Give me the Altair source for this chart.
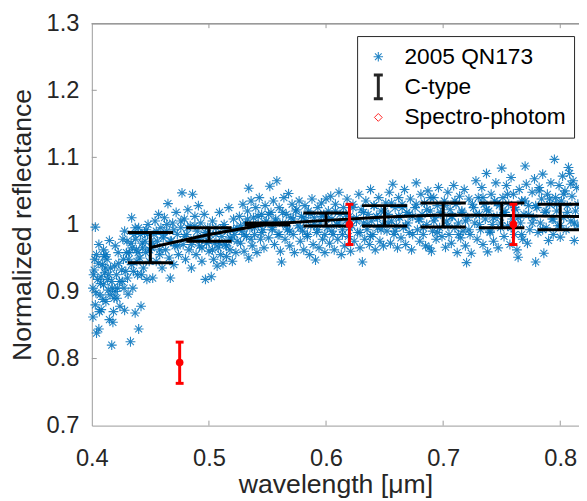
import altair as alt
import pandas as pd

# ---------------- data ----------------
# 2005 QN173 spectrum (wavelength in micron, normalized reflectance)
wl_a = [0.401,0.402,0.403,0.403,0.404,0.405,0.406,0.406,0.407,0.408,0.409,0.410,0.410,0.411,0.412,0.413,0.414,0.415,0.416,0.417,0.417,0.418,0.419,0.420,0.421,0.422,0.423,0.424,0.401,0.404,0.412,0.420,0.408,0.415]
refl_a = [0.905,0.932,0.996,0.880,0.955,0.918,0.844,0.970,0.895,0.873,0.940,0.910,0.962,0.928,0.885,0.948,0.902,0.858,0.935,0.820,0.915,0.854,0.890,0.968,0.925,0.905,0.942,0.878,0.862,0.838,0.955,0.900,0.922,0.976]

wl_b = [0.426,0.427,0.428,0.429,0.430,0.431,0.432,0.433,0.434,0.434,0.435,0.436,0.437,0.438,0.439,0.440,0.440,0.441,0.442,0.443,0.444,0.445,0.446,0.447,0.448,0.449,0.428,0.437]
refl_b = [0.915,0.948,0.872,0.930,0.975,0.896,0.958,0.825,1.010,0.940,0.905,0.985,0.868,0.962,0.925,0.844,0.995,0.950,0.878,0.972,0.935,0.988,0.958,0.918,1.000,0.945,0.990,0.995]

wl_c = [0.451,0.452,0.453,0.454,0.455,0.456,0.457,0.458,0.459,0.460,0.461,0.462,0.463,0.464,0.465,0.466,0.467,0.468,0.469,0.470,0.471,0.472,0.473,0.474,
        0.476,0.477,0.478,0.479,0.480,0.481,0.482,0.483,0.484,0.485,0.486,0.487,0.488,0.489,0.490,0.491,0.492,0.493,0.494,0.495,0.496,0.497,0.498,0.499]
refl_c = [0.965,0.920,0.985,1.005,0.945,0.975,1.015,0.955,0.995,0.935,0.980,1.010,0.962,0.990,1.031,0.950,0.920,0.975,1.002,0.940,0.968,1.018,0.985,0.955,
          0.995,1.047,0.970,1.008,0.948,0.985,1.022,0.962,0.998,0.935,1.045,0.978,1.012,0.955,0.990,1.028,0.968,1.002,0.945,0.982,1.015,0.918,0.972,0.995]

wl_d = [0.500,0.501,0.502,0.503,0.504,0.505,0.506,0.507,0.508,0.509,0.510,0.511,0.512,0.513,0.514,0.515,0.516,0.517,0.518,0.519,0.520,0.521,0.522,0.523,0.524,
        0.526,0.527,0.528,0.529,0.530,0.531,0.532,0.533,0.534,0.534,0.535,0.536,0.537,0.538,0.539,0.540,0.541,0.542,0.543,0.544,0.545,0.546,0.547,0.548,0.549]
refl_d = [0.960,0.985,0.922,1.005,0.948,0.972,0.995,0.938,0.965,1.018,0.955,0.982,0.942,1.000,0.970,0.952,0.990,1.025,0.962,0.978,0.945,1.008,0.985,0.958,0.995,
          1.012,0.972,0.990,1.030,0.960,1.002,0.982,1.020,1.054,0.950,0.995,1.035,0.968,1.010,0.985,1.025,0.958,1.000,1.040,0.978,1.015,0.992,0.965,1.028,1.005]

wl_e = [0.551,0.552,0.553,0.554,0.555,0.556,0.557,0.558,0.559,0.560,0.561,0.562,0.563,0.564,0.565,0.566,0.567,0.568,0.569,0.570,0.571,0.572,0.573,0.574,
        0.576,0.577,0.578,0.579,0.580,0.581,0.582,0.583,0.584,0.585,0.586,0.587,0.588,0.589,0.590,0.591,0.592,0.593,0.594,0.595,0.596,0.597,0.598,0.599,0.600]
refl_e = [0.980,1.057,1.018,0.995,1.035,0.970,1.008,1.065,0.985,1.025,0.960,0.944,1.002,1.040,0.978,1.015,0.992,1.046,0.968,1.010,1.030,0.985,0.958,1.020,
          0.998,1.035,0.975,1.012,0.990,0.962,1.028,1.005,0.982,1.020,0.955,0.998,1.038,0.970,1.010,0.947,0.988,1.025,0.965,1.002,1.032,0.978,1.015,0.958,1.038]

wl_f = [0.601,0.602,0.603,0.604,0.605,0.606,0.607,0.608,0.609,0.610,0.611,0.612,0.613,0.614,0.615,0.616,0.617,0.618,0.619,0.620,0.621,0.622,0.623,0.624,
        0.626,0.627,0.628,0.629,0.630,0.631,0.632,0.633,0.634,0.635,0.636,0.637,0.638,0.639,0.640,0.641,0.642,0.643,0.644,0.645,0.646,0.647,0.648,0.649]
refl_f = [0.995,1.020,0.972,1.042,1.008,0.985,0.962,1.030,1.000,0.978,1.048,1.015,0.955,0.992,1.025,0.968,1.005,1.038,0.982,1.012,0.960,0.998,1.030,0.975,
          1.010,0.988,1.045,0.965,1.022,0.944,1.002,0.978,1.035,0.992,1.015,0.970,1.052,1.005,0.985,1.028,0.962,1.012,0.995,1.040,0.975,1.020,1.000,0.968]

wl_g = [0.651,0.652,0.653,0.654,0.655,0.656,0.657,0.658,0.659,0.660,0.661,0.662,0.663,0.664,0.665,0.666,0.667,0.668,0.669,0.670,0.671,0.672,0.673,0.674,
        0.676,0.677,0.678,0.679,0.680,0.681,0.682,0.683,0.684,0.685,0.686,0.687,0.688,0.689,0.690,0.691,0.692,0.693,0.694,0.695,0.696,0.697,0.698,0.699]
refl_g = [1.032,0.990,1.015,1.048,0.972,1.005,1.060,0.985,1.025,0.998,0.965,1.040,1.010,0.980,1.030,0.995,1.052,0.970,1.018,1.002,0.988,1.038,0.962,1.012,
          1.025,1.062,0.992,1.008,0.975,1.045,1.015,0.985,1.032,0.968,1.000,1.050,0.965,1.020,0.960,0.990,1.040,1.010,0.978,1.028,1.055,0.995,1.015,0.982]

wl_h = [0.701,0.702,0.703,0.704,0.705,0.706,0.707,0.708,0.709,0.710,0.711,0.712,0.713,0.714,0.715,0.716,0.717,0.718,0.719,0.720,0.721,0.722,0.723,0.724,
        0.726,0.727,0.728,0.729,0.730,0.731,0.732,0.733,0.734,0.735,0.736,0.737,0.738,0.739,0.740,0.741,0.742,0.743,0.744,0.745,0.746,0.747,0.748,0.749,0.750]
refl_h = [1.035,0.966,1.005,1.048,0.985,1.022,0.972,1.012,1.058,0.995,1.030,0.958,1.002,1.042,0.980,1.018,0.990,1.052,0.968,0.943,1.010,1.038,0.985,0.957,
          1.025,1.002,1.065,0.978,1.040,1.015,0.992,1.055,0.970,1.030,1.008,1.076,0.959,1.020,0.988,1.045,1.000,0.975,1.035,1.062,1.012,0.965,1.028,0.995,1.084]

wl_i = [0.751,0.752,0.753,0.754,0.755,0.756,0.757,0.758,0.759,0.760,0.761,0.762,0.763,0.764,0.765,0.766,0.767,0.768,0.769,0.770,0.771,0.772,0.773,0.774,
        0.776,0.777,0.778,0.779,0.780,0.781,0.782,0.783,0.784,0.785,0.786,0.787,0.788,0.789,0.790,0.791,0.792,0.793,0.794,0.795,0.796,0.797,0.798,0.799]
refl_i = [1.040,0.982,1.018,1.058,0.998,1.030,0.970,1.070,1.008,1.045,0.985,1.022,0.962,0.951,1.052,1.002,1.035,0.978,1.015,1.087,1.060,0.972,1.028,0.992,
          1.048,1.010,1.068,0.944,1.025,0.988,1.055,1.002,1.038,1.075,0.957,1.018,0.995,1.045,0.976,1.030,1.062,1.008,0.985,1.097,1.040,1.020,0.998,1.058]

wl_j = [0.800,0.801,0.802,0.803,0.804,0.805,0.806,0.807,0.808,0.809,0.810,0.811,0.812,0.813,0.814,0.815]
refl_j = [0.981,1.035,1.072,1.010,1.050,0.992,1.028,1.085,1.076,1.005,1.042,1.065,0.976,1.020,1.055,0.998]

# extra points filling the dense parts of the cloud
wl_k = [0.4015,0.4035,0.4055,0.4075,0.4095,0.4115,0.4135,0.4155,0.4175,0.4195,0.4215,0.4235,0.4255,0.4275,0.4295,0.4315,0.4335,0.4355,0.4375,0.4395,0.4415,0.4435,0.4455,0.4475,0.4495,
        0.4025,0.4065,0.4105,0.4145,0.4185,0.4225,0.4265,0.4305,0.4345,0.4385,0.4425,0.4465]
refl_k = [0.925,0.898,0.942,0.912,0.888,0.935,0.918,0.895,0.905,0.938,0.890,0.915,0.932,0.905,0.958,0.948,0.972,0.930,0.978,0.958,0.985,0.965,0.975,0.985,0.962,
          0.948,0.870,0.952,0.925,0.870,0.958,0.978,0.920,0.965,0.945,0.925,0.992]

wl_m = [0.452,0.455,0.458,0.461,0.464,0.467,0.470,0.473,0.476,0.479,0.482,0.485,0.488,0.491,0.494,0.497,0.500,0.503,0.506,0.509,
        0.512,0.515,0.518,0.521,0.524,0.527,0.530,0.533,0.536,0.539,0.542,0.545,0.548,0.551,0.554,0.557,0.560,0.563,0.566,0.569,
        0.572,0.575,0.578,0.581,0.584,0.587,0.590,0.593,0.596,0.599]
refl_m = [0.972,0.990,0.962,0.985,1.000,0.975,0.992,0.968,1.005,0.982,0.995,0.970,0.998,0.978,0.965,0.988,0.975,0.962,0.985,0.972,
          0.995,0.968,0.980,0.992,0.975,0.998,0.985,1.008,0.978,0.995,1.012,0.988,1.002,1.015,0.992,1.005,0.985,1.018,0.998,0.990,
          1.008,1.022,0.995,1.010,0.985,1.015,1.000,0.992,1.012,0.985]

wl_n = [0.602,0.605,0.608,0.611,0.614,0.617,0.620,0.623,0.626,0.629,0.632,0.635,0.638,0.641,0.644,0.647,0.650,0.653,0.656,0.659,
        0.662,0.665,0.668,0.671,0.674,0.677,0.680,0.683,0.686,0.689,0.692,0.695,0.698,0.701,0.704,0.707,0.710,0.713,0.716,0.719,
        0.722,0.725,0.728,0.731,0.734,0.737,0.740,0.743,0.746,0.749,0.752,0.755,0.758,0.761,0.764,0.767,0.770,0.773,0.776,0.779,
        0.782,0.785,0.788,0.791,0.794,0.797,0.800,0.803,0.806,0.809,0.812,0.815]
refl_n = [1.010,0.990,1.020,1.002,0.985,1.015,0.995,1.025,1.005,0.988,1.018,1.000,0.982,1.028,1.010,0.992,1.020,1.002,1.032,0.990,
          1.012,1.025,0.998,1.015,0.985,1.030,1.008,0.995,1.022,1.040,1.005,0.988,1.018,1.028,0.998,1.012,1.035,0.985,1.020,1.005,
          0.992,1.030,1.015,1.000,1.040,1.022,0.990,1.010,1.032,1.002,1.018,1.045,0.995,1.025,1.010,0.985,1.035,1.015,1.002,1.028,
          1.050,0.992,1.020,1.038,1.008,1.030,0.998,1.045,1.018,1.060,1.002,1.030]

# C-type template: mean with error range
ctype_wl = [0.45, 0.50, 0.55, 0.60, 0.65, 0.70, 0.75, 0.80, 0.85]
ctype_mean = [0.9655, 0.985, 1.0005, 1.006, 1.011, 1.014, 1.0135, 1.012, 1.011]
ctype_lo = [0.943, 0.975, 0.999, 0.9975, 0.9975, 0.996, 0.995, 0.992, 0.991]
ctype_hi = [0.988, 0.995, 1.002, 1.017, 1.028, 1.032, 1.032, 1.030, 1.030]

# Spectro-photometric points
sp_wl = [0.475, 0.620, 0.760]
sp_refl = [0.794, 1.000, 1.000]
sp_lo = [0.763, 0.970, 0.970]
sp_hi = [0.8245, 1.030, 1.030]

x_ticks = [0.4, 0.5, 0.6, 0.7, 0.8]
y_ticks = [0.7, 0.8, 0.9, 1.0, 1.1, 1.2, 1.3]
series_names = ["2005 QN173", "C-type", "Spectro-photom"]

# ---------------- styling ----------------
FONT = "Liberation Sans"
BLUE = "#0072BD"
W, H = 494, 408
STAR = "M-0.4,0L0.4,0M0,-0.4L0,0.4M-0.28,-0.28L0.28,0.28M-0.28,0.28L0.28,-0.28"
IBEAM = "M0,-1.0L0,1.0M-0.38,-1.0L0.38,-1.0M-0.38,1.0L0.38,1.0"
DIAMOND = "M0,-0.33L0.33,0L0,0.33L-0.33,0Z"

pairs = []
for xs, ys in [(wl_a, refl_a), (wl_b, refl_b), (wl_c, refl_c), (wl_d, refl_d), (wl_e, refl_e),
               (wl_f, refl_f), (wl_g, refl_g), (wl_h, refl_h), (wl_i, refl_i), (wl_j, refl_j),
               (wl_k, refl_k), (wl_m, refl_m), (wl_n, refl_n)]:
    pairs.extend(zip(xs, ys))
stars_df = pd.DataFrame(pairs, columns=["wl", "refl"])
stars_df["series"] = series_names[0]
ctype_df = pd.DataFrame({"wl": ctype_wl, "refl": ctype_mean, "lo": ctype_lo, "hi": ctype_hi})
sp_df = pd.DataFrame({"wl": sp_wl, "refl": sp_refl, "lo": sp_lo, "hi": sp_hi})
xt_df = pd.DataFrame({"wl": x_ticks[1:]})
yt_df = pd.DataFrame({"refl": y_ticks[1:-1]})

xscale = alt.Scale(domain=[0.4, 0.816], nice=False, zero=False)
yscale = alt.Scale(domain=[0.7, 1.3], nice=False, zero=False)

X = alt.X("wl:Q", scale=xscale, title="wavelength [μm]",
          axis=alt.Axis(values=x_ticks, format=".1f", ticks=False, grid=False, labelFlush=False,
                        labelPadding=21, titlePadding=2))
Y = alt.Y("refl:Q", scale=yscale, title="Normalized reflectance",
          axis=alt.Axis(values=y_ticks, labelExpr="format(datum.value, '~g')", ticks=False,
                        grid=False, labelFlush=False, labelPadding=13, titlePadding=10))

leg = alt.Legend(title=None, orient="none", legendX=269, legendY=13, padding=8,
                 strokeColor="#262626", fillColor="white", labelFontSize=23, labelFont=FONT,
                 labelColor="#000000", symbolSize=576, rowPadding=0, labelOffset=13,
                 labelLimit=400, cornerRadius=0)

stars = alt.Chart(stars_df).mark_point(filled=False, opacity=0.85, size=625).encode(
    x=X, y=Y,
    color=alt.Color("series:N", scale=alt.Scale(domain=series_names, range=[BLUE, "black", "red"]), legend=leg),
    shape=alt.Shape("series:N", scale=alt.Scale(domain=series_names, range=[STAR, IBEAM, DIAMOND]), legend=leg),
    strokeWidth=alt.StrokeWidth("series:N", scale=alt.Scale(type="ordinal", domain=series_names, range=[1.1, 3, 1]), legend=leg),
)

c_line = alt.Chart(ctype_df).mark_line(color="black", strokeWidth=3, clip=True).encode(x="wl:Q", y="refl:Q")
c_bar = alt.Chart(ctype_df).mark_rule(color="black", strokeWidth=3, clip=True).encode(x="wl:Q", y="lo:Q", y2="hi:Q")
c_cap_lo = alt.Chart(ctype_df).mark_tick(color="black", orient="horizontal", size=46, thickness=3, opacity=1, clip=True).encode(x="wl:Q", y="lo:Q")
c_cap_hi = alt.Chart(ctype_df).mark_tick(color="black", orient="horizontal", size=46, thickness=3, opacity=1, clip=True).encode(x="wl:Q", y="hi:Q")

s_bar = alt.Chart(sp_df).mark_rule(color="red", strokeWidth=3).encode(x="wl:Q", y="lo:Q", y2="hi:Q")
s_cap_lo = alt.Chart(sp_df).mark_tick(color="red", orient="horizontal", size=8, thickness=3, opacity=1).encode(x="wl:Q", y="lo:Q")
s_cap_hi = alt.Chart(sp_df).mark_tick(color="red", orient="horizontal", size=8, thickness=3, opacity=1).encode(x="wl:Q", y="hi:Q")
s_pt = alt.Chart(sp_df).mark_point(color="red", filled=True, opacity=1, size=60, shape="circle").encode(x="wl:Q", y="refl:Q")

AX = "#9a9a9a"
top_line = alt.Chart(xt_df).mark_rule(color=AX, strokeWidth=1).encode(x=alt.value(0), x2=alt.value(W), y=alt.value(0.5))
xt_bot = alt.Chart(xt_df).mark_rule(color=AX, strokeWidth=1).encode(x="wl:Q", y=alt.value(H), y2=alt.value(H - 5))
xt_top = alt.Chart(xt_df).mark_rule(color=AX, strokeWidth=1).encode(x="wl:Q", y=alt.value(0), y2=alt.value(5))
yt_left = alt.Chart(yt_df).mark_rule(color=AX, strokeWidth=1).encode(y="refl:Q", x=alt.value(0), x2=alt.value(5))

chart = alt.layer(
    top_line, xt_bot, xt_top, yt_left,
    stars, c_line, c_bar, c_cap_lo, c_cap_hi,
    s_bar, s_cap_lo, s_cap_hi, s_pt,
).properties(
    width=W, height=H, background="white",
    autosize=alt.AutoSizeParams(type="none"),
    padding={"left": 85, "top": 12, "right": 0, "bottom": 73},
).configure_view(stroke=None).configure_axis(
    labelFont=FONT, titleFont=FONT, labelFontSize=24, titleFontSize=27,
    labelColor="#262626", titleColor="#262626", titleFontWeight="normal",
    domainColor=AX, domainWidth=1,
)

chart.save("out.html", embed_options={"renderer": "svg", "actions": False})
